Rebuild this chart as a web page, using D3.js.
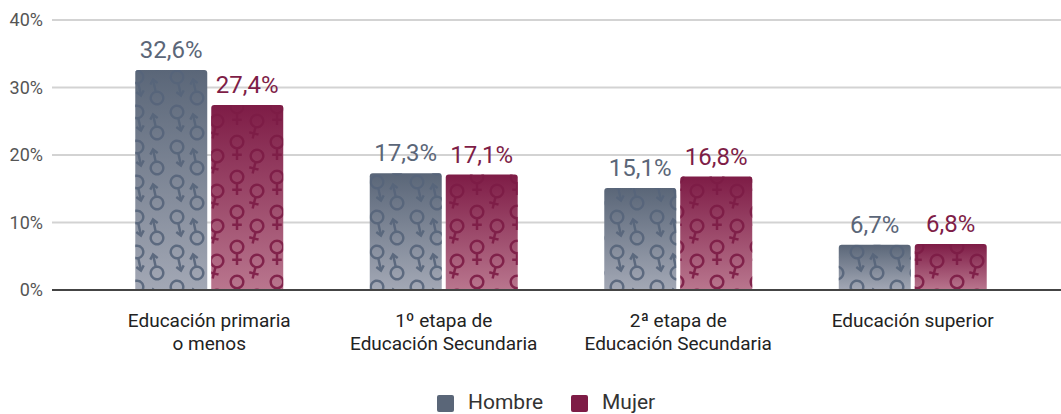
<!DOCTYPE html>
<html><head><meta charset="utf-8">
<script src="https://cdn.jsdelivr.net/npm/d3@7"></script>
<style>
body{margin:0;background:#fff;}
svg{display:block;font-family:Roboto,"Noto Sans",sans-serif;}
</style></head>
<body>
<svg id="chart" width="1061" height="414"></svg>
<script>
const categories = [["Educación primaria","o menos"],["1º etapa de","Educación Secundaria"],["2ª etapa de","Educación Secundaria"],["Educación superior"]];
const seriesNames = ["Hombre","Mujer"];
const hombre = [32.6, 17.3, 15.1, 6.7];
const mujer = [27.4, 17.1, 16.8, 6.8];
const yTicks = [0,10,20,30,40];

const svg = d3.select("#chart");
const catKeys = categories.map(c=>c.join(" "));
const x0 = d3.scaleBand().domain(catKeys).range([92,1030]).paddingInner(0.369).paddingOuter(0.1845);
const x1 = d3.scaleBand().domain(seriesNames).range([0,x0.bandwidth()]).paddingInner(0.0526);
const y = d3.scaleLinear().domain([0,40]).range([290,20]);

const colors = {Hombre:{top:"#5a6678",bot:"#a3a8b5",sym:"#56647a",text:"#5b6678"},
                Mujer:{top:"#7e1c46",bot:"#b9768e",sym:"#7c1b45",text:"#7e1d47"}};

const defs = svg.append("defs");
seriesNames.forEach(s=>{
  const g = defs.append("linearGradient").attr("id","grad"+s).attr("x1",0).attr("y1",0).attr("x2",0).attr("y2",1);
  g.append("stop").attr("offset","0%").attr("stop-color",colors[s].top);
  g.append("stop").attr("offset","100%").attr("stop-color",colors[s].bot);
});

const TW = 40, TH = 35;
function maleSym(g, cx, cy, dir){
  // dir=1: circle on top, arrow pointing down; dir=-1: arrow up, circle below
  const s = g.append("g").attr("transform",`translate(${cx},${cy}) rotate(${dir===1?-12:-12})`);
  s.append("circle").attr("cx",0).attr("cy",0).attr("r",6.3);
  if(dir===1){
    s.append("path").attr("d","M0,6.3 L0,18.5");
    s.append("path").attr("d","M-3.8,14.5 L0,19 L3.8,14.5");
  } else {
    s.append("path").attr("d","M0,-6.3 L0,-18.5");
    s.append("path").attr("d","M-3.8,-14.5 L0,-19 L3.8,-14.5");
  }
}
function femaleSym(g, cx, cy, rot){
  const s = g.append("g").attr("transform",`translate(${cx},${cy}) rotate(${rot})`);
  s.append("circle").attr("cx",0).attr("cy",0).attr("r",6.3);
  s.append("path").attr("d","M0,6.3 L0,18 M-4.8,12.8 L4.8,12.8");
}
function makePattern(id, px, py, drawFn, color){
  const p = defs.append("pattern").attr("id",id).attr("patternUnits","userSpaceOnUse")
    .attr("width",TW).attr("height",TH).attr("x",px).attr("y",py);
  const g = p.append("g").attr("fill","none").attr("stroke",color).attr("stroke-width",2.5)
    .attr("stroke-linecap","butt").attr("stroke-linejoin","miter");
  [-TW,0,TW].forEach(dx=>[-TH,0,TH].forEach(dy=>drawFn(g,dx,dy)));
}
makePattern("patHombre", 158, 0, (g,dx,dy)=>{
  maleSym(g, 19+dx, 7+dy, 1);
  maleSym(g, -1+dx, 28+dy, -1);
}, colors.Hombre.sym);
makePattern("patMujer", 217, 0, (g,dx,dy)=>{
  femaleSym(g, 20+dx, 2+dy, 0);
  femaleSym(g, 0+dx, 16+dy, 14);
}, colors.Mujer.sym);

// gridlines + tick labels
const grid = svg.append("g");
yTicks.forEach(t=>{
  if(t!==0) grid.append("line").attr("x1",52).attr("x2",1061).attr("y1",y(t)).attr("y2",y(t))
    .attr("stroke","#d3d3d3").attr("stroke-width",2);
});
const yAxis = d3.axisLeft(y).tickValues(yTicks).tickFormat(d=>d+"%").tickSize(0).tickPadding(0);
const ya = svg.append("g").attr("transform","translate(43,0)").call(yAxis);
ya.select(".domain").remove();
ya.selectAll("text").attr("font-size",18).attr("fill","#555").attr("font-family","Roboto");

// bars
function barPath(x,yt,w,h,r){
  r = Math.min(r,h);
  return `M${x},${yt+h} L${x},${yt+r} Q${x},${yt} ${x+r},${yt} L${x+w-r},${yt} Q${x+w},${yt} ${x+w},${yt+r} L${x+w},${yt+h} Z`;
}
const data = catKeys.map((k,i)=>({key:k, values:[{s:"Hombre",v:hombre[i]},{s:"Mujer",v:mujer[i]}]}));
const groups = svg.append("g").selectAll("g").data(data).join("g")
  .attr("transform",d=>`translate(${x0(d.key)},0)`);
groups.selectAll("path.bar").data(d=>d.values).join("path").attr("class","bar")
  .attr("d",d=>barPath(x1(d.s),y(d.v),x1.bandwidth(),y(0)-y(d.v),3))
  .attr("fill",d=>`url(#grad${d.s})`);
// pattern must use absolute coordinates -> draw pattern paths in an untransformed group
svg.append("g").selectAll("path").data(data.flatMap(d=>d.values.map(v=>({key:d.key,...v})))).join("path")
  .attr("d",d=>barPath(x0(d.key)+x1(d.s),y(d.v),x1.bandwidth(),y(0)-y(d.v),3))
  .attr("fill",d=>`url(#pat${d.s})`).attr("opacity",0.9);
groups.selectAll("text.val").data(d=>d.values).join("text").attr("class","val")
  .attr("x",d=>x1(d.s)+x1.bandwidth()/2).attr("y",d=>y(d.v)-12)
  .attr("text-anchor","middle").attr("font-size",24).attr("font-weight",400)
  .attr("fill",d=>colors[d.s].text)
  .text(d=>d.v.toFixed(1).replace(".",",")+"%");

// baseline
svg.append("line").attr("x1",52).attr("x2",1061).attr("y1",y(0)).attr("y2",y(0)).attr("stroke","#444").attr("stroke-width",2);

// category labels
categories.forEach((c,i)=>{
  const cx = x0(catKeys[i])+x0.bandwidth()/2;
  const t = svg.append("text").attr("text-anchor","middle").attr("font-size",19).attr("fill","#222").attr("x",cx);
  c.forEach((line,j)=>t.append("tspan").attr("x",cx).attr("y",327+j*23).text(line));
});

// legend
const legX = [437,571];
seriesNames.forEach((s,i)=>{
  svg.append("rect").attr("x",legX[i]).attr("y",395).attr("width",17).attr("height",17).attr("rx",2)
    .attr("fill",colors[s].top);
  svg.append("text").attr("x",legX[i]+31).attr("y",409).attr("font-size",21).attr("fill","#333").text(s);
});
</script>
</body></html>
